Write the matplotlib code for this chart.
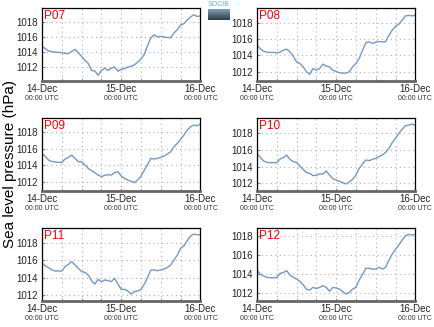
import numpy as np
import matplotlib
matplotlib.use("Agg")
import matplotlib.pyplot as plt
import matplotlib.dates as mdates

plt.rcParams["font.family"] = ["Liberation Sans", "DejaVu Sans"]

# hourly sea level pressure (hPa), 14-Dec 00:00 -> 16-Dec 00:00 UTC
times = np.arange(np.datetime64("2014-12-14T00:00"), np.datetime64("2014-12-16T01:00"),
                  np.timedelta64(1, "h"))

p07 = [1014.78, 1014.46, 1014.15, 1014.06, 1014.0, 1013.97, 1013.92, 1013.83, 1013.8, 1014.1,
       1014.37, 1013.9, 1013.43, 1012.9, 1012.5, 1011.55, 1011.5, 1010.9, 1011.55, 1011.87,
       1011.55, 1011.87, 1012.0, 1011.46, 1011.7, 1011.8, 1012.0, 1012.1, 1012.3, 1012.67,
       1013.1, 1013.7, 1014.9, 1015.94, 1016.3, 1016.03, 1016.1, 1016.03, 1015.94, 1015.94,
       1016.57, 1017.0, 1017.64, 1017.8, 1018.27, 1018.7, 1019.0, 1018.76, 1018.85]
p08 = [1015.27, 1014.82, 1014.53, 1014.41, 1014.37, 1014.37, 1014.33, 1014.41, 1014.65, 1014.78,
       1014.45, 1013.92, 1013.22, 1013.02, 1012.61, 1012.0, 1011.7, 1012.41, 1012.2, 1012.41,
       1012.94, 1012.69, 1012.6, 1012.2, 1012.04, 1011.88, 1011.84, 1011.84, 1012.0, 1012.61,
       1013.02, 1013.63, 1014.65, 1015.55, 1015.67, 1015.47, 1015.63, 1015.71, 1015.67, 1015.67,
       1016.49, 1017.1, 1017.59, 1017.84, 1018.33, 1018.86, 1018.9, 1018.86, 1018.94]
p09 = [1015.45, 1015.04, 1014.64, 1014.47, 1014.39, 1014.35, 1014.35, 1014.76, 1014.96, 1015.24,
       1014.84, 1014.43, 1014.43, 1014.03, 1013.62, 1013.34, 1013.1, 1012.81, 1012.61, 1012.77,
       1012.85, 1012.81, 1013.1, 1013.22, 1012.69, 1012.41, 1012.2, 1012.04, 1011.88, 1012.2,
       1012.69, 1013.42, 1014.11, 1014.84, 1014.76, 1014.84, 1014.96, 1015.12, 1015.37, 1015.65,
       1016.26, 1016.66, 1017.15, 1017.68, 1018.28, 1018.69, 1018.89, 1018.81, 1019.01]
p10 = [1015.6, 1015.12, 1014.68, 1014.52, 1014.48, 1014.48, 1014.48, 1014.92, 1015.08, 1015.4,
       1014.88, 1014.6, 1014.52, 1014.08, 1013.68, 1013.28, 1013.2, 1012.92, 1012.96, 1013.12,
       1013.12, 1013.48, 1013.0, 1012.56, 1012.4, 1012.24, 1012.08, 1011.92, 1012.16, 1012.48,
       1013.0, 1013.8, 1014.32, 1014.8, 1014.72, 1014.88, 1015.0, 1015.2, 1015.4, 1015.72,
       1016.2, 1016.88, 1017.4, 1018.0, 1018.48, 1018.92, 1019.0, 1019.12, 1018.96]
p11 = [1015.72, 1015.34, 1015.15, 1014.89, 1014.77, 1014.77, 1014.77, 1015.27, 1015.53, 1015.84,
       1015.46, 1015.08, 1014.7, 1014.62, 1014.32, 1013.67, 1013.29, 1013.82, 1013.56, 1013.75,
       1013.67, 1013.56, 1013.94, 1013.29, 1012.68, 1012.68, 1012.49, 1012.15, 1012.42, 1012.49,
       1012.68, 1013.29, 1014.05, 1014.89, 1014.89, 1014.81, 1014.89, 1015.0, 1015.19, 1015.46,
       1016.03, 1016.59, 1017.35, 1017.66, 1018.23, 1018.76, 1018.99, 1018.91, 1018.91]
p12 = [1014.41, 1013.99, 1013.78, 1013.64, 1013.6, 1013.6, 1013.6, 1014.06, 1014.13, 1014.34,
       1013.88, 1013.64, 1013.47, 1013.22, 1012.87, 1012.38, 1012.31, 1012.59, 1012.45, 1012.59,
       1012.77, 1012.59, 1012.18, 1012.59, 1012.52, 1012.42, 1012.14, 1011.9, 1012.04, 1012.42,
       1012.59, 1013.36, 1013.95, 1014.58, 1014.58, 1014.51, 1014.51, 1014.69, 1014.51, 1014.69,
       1015.45, 1016.08, 1016.57, 1017.02, 1017.55, 1018.0, 1018.14, 1018.07, 1018.14]

stations = ["P07", "P08", "P09", "P10", "P11", "P12"]
series = [p07, p08, p09, p10, p11, p12]
ylims = [(1010.13, 1019.87), (1010.86, 1019.8), (1010.87, 1019.75),
         (1011.08, 1019.84), (1011.35, 1019.67), (1011.16, 1018.8)]
yticks = [1012, 1014, 1016, 1018]

fig = plt.figure(figsize=(4.34, 3.27), dpi=100)
lefts = [0.0968, 0.592]
bottoms = [0.752, 0.416, 0.0795]

for i, (name, vals) in enumerate(zip(stations, series)):
    ax = fig.add_axes([lefts[i % 2], bottoms[i // 2], 0.365, 0.223])
    ax.plot(times, vals, color="#7399c6", lw=1.0)
    ax.set_xlim(times[0], times[-1])
    ax.set_ylim(*ylims[i])
    ax.set_yticks(yticks)
    ax.xaxis.set_major_locator(mdates.DayLocator())
    ax.xaxis.set_major_formatter(mdates.DateFormatter("%d-%b"))
    ax.xaxis.set_minor_locator(mdates.HourLocator(byhour=[6, 12, 18]))
    ax.grid(True, which="both", color="#b0b0b0", ls=(0, (1, 3)), lw=0.8)
    ax.tick_params(which="both", direction="in", length=2, color="#888888",
                   labelsize=7, pad=2, labelcolor="#222222")
    ax.tick_params(axis="y", pad=3)
    for s in ax.spines.values():
        s.set_linewidth(0.9)
    ax.spines["bottom"].set_linewidth(2)
    ax.spines["bottom"].set_color("#666666")
    for d in ax.get_xticks():
        ax.text(d, -0.235, "00:00 UTC", transform=ax.get_xaxis_transform(),
                ha="center", va="center", fontsize=5, color="#333333")
    ax.text(0.015, 0.98, name, transform=ax.transAxes, color="red",
            fontsize=8.5, ha="left", va="top")

fig.text(0.022, 0.5, "Sea level pressure (hPa)", rotation=90,
         ha="center", va="center", fontsize=11)

# small logo
lax = fig.add_axes([208 / 434, 1 - 20 / 327, 22 / 434, 11 / 327])
grad = np.linspace(0, 1, 20).reshape(-1, 1)
lax.imshow(grad, aspect="auto", cmap=matplotlib.colors.LinearSegmentedColormap.from_list(
    "lg", ["#7f9fae", "#2c3d48"]))
lax.axis("off")
fig.text(219 / 434, 1 - 5 / 327, "SOCIB", color="#3ec4d4", fontsize=5,
         ha="center", va="center")

fig.savefig("out.png", dpi=100)
